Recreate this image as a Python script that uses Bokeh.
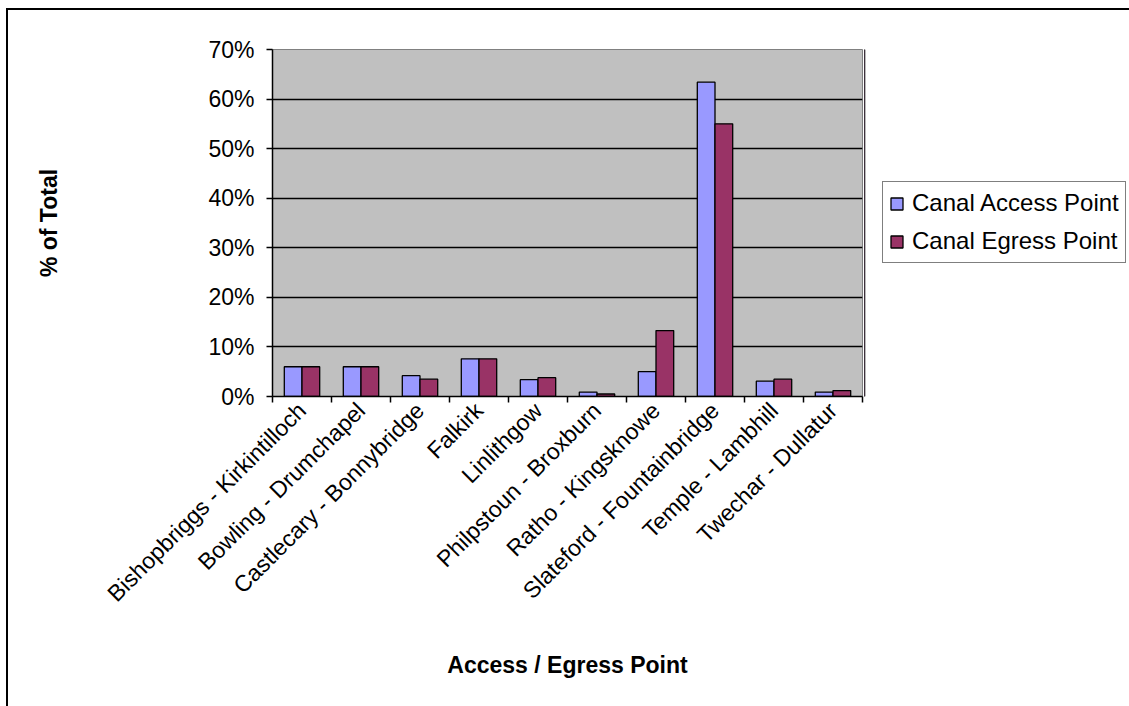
from math import pi

from bokeh.embed import file_html
from bokeh.layouts import row
from bokeh.models import (ColumnDataSource, FixedTicker, Legend, LegendItem,
                          NumeralTickFormatter, Range1d)
from bokeh.plotting import figure
from bokeh.resources import INLINE
from bokeh.transform import dodge

# Share of trips by canal access / egress point (%)
categories = [
    "Bishopbriggs - Kirkintilloch",
    "Bowling - Drumchapel",
    "Castlecary - Bonnybridge",
    "Falkirk",
    "Linlithgow",
    "Philpstoun - Broxburn",
    "Ratho - Kingsknowe",
    "Slateford - Fountainbridge",
    "Temple - Lambhill",
    "Twechar - Dullatur",
]
access_pct = [6.0, 6.0, 4.2, 7.6, 3.4, 0.9, 5.0, 63.4, 3.1, 0.9]
egress_pct = [6.0, 6.0, 3.5, 7.6, 3.8, 0.5, 13.3, 55.0, 3.5, 1.2]
series_names = ["Canal Access Point", "Canal Egress Point"]
series_colors = ["#9999FF", "#993366"]
y_ticks = [0.0, 0.1, 0.2, 0.3, 0.4, 0.5, 0.6, 0.7]

FONT = "Liberation Sans"
SIZE = "23px"
TOTAL_W, TOTAL_H = 1121, 696
MAIN_W = 856
BORDER_TOP, BORDER_BOTTOM = 39, 310

centers = [i + 0.5 for i in range(len(categories))]
bounds = [float(i) for i in range(len(categories) + 1)]

source = ColumnDataSource(data=dict(
    x=centers,
    access=[v / 100 for v in access_pct],
    egress=[v / 100 for v in egress_pct],
))

p = figure(
    width=MAIN_W, height=TOTAL_H,
    x_range=Range1d(0, len(categories)), y_range=Range1d(0, 0.7),
    output_backend="svg", toolbar_location=None,
    min_border_left=264, min_border_right=2,
    min_border_top=BORDER_TOP, min_border_bottom=BORDER_BOTTOM,
)
p.background_fill_color = "#C0C0C0"
p.border_fill_color = "white"
p.outline_line_color = "#808080"
p.outline_line_width = 1

bar_w = 0.3
p.vbar(x=dodge("x", -bar_w / 2, range=p.x_range), top="access", width=bar_w,
       source=source, fill_color=series_colors[0], line_color="black", line_width=1.3)
p.vbar(x=dodge("x", bar_w / 2, range=p.x_range), top="egress", width=bar_w,
       source=source, fill_color=series_colors[1], line_color="black", line_width=1.3)

# x axis: labels at the category centres, tick marks at the boundaries
xax = p.xaxis[0]
xax.ticker = FixedTicker(ticks=centers, minor_ticks=bounds)
xax.major_label_overrides = {c: name for c, name in zip(centers, categories)}
xax.major_label_orientation = pi / 4
xax.major_tick_out = 0
xax.major_tick_in = 0
xax.minor_tick_out = 6
xax.minor_tick_in = 0
xax.minor_tick_line_color = "black"
xax.minor_tick_line_width = 1.5
xax.major_label_standoff = 4
xax.axis_line_color = "black"
xax.axis_line_width = 1.5
xax.major_label_text_font = FONT
xax.major_label_text_font_size = SIZE
xax.major_label_text_color = "black"
xax.axis_label = "Access / Egress Point"
xax.axis_label_text_font = FONT
xax.axis_label_text_font_size = SIZE
xax.axis_label_text_font_style = "bold"
xax.axis_label_text_color = "black"
xax.axis_label_standoff = 33

yax = p.yaxis[0]
yax.ticker = FixedTicker(ticks=y_ticks)
yax.formatter = NumeralTickFormatter(format="0%")
yax.major_tick_out = 6
yax.major_tick_in = 0
yax.minor_tick_out = 0
yax.minor_tick_in = 0
yax.major_tick_line_color = "black"
yax.major_tick_line_width = 1.5
yax.axis_line_color = "black"
yax.axis_line_width = 1.5
yax.major_label_standoff = 12
yax.major_label_text_font = FONT
yax.major_label_text_font_size = SIZE
yax.major_label_text_color = "black"
yax.axis_label = "% of Total"
yax.axis_label_text_font = FONT
yax.axis_label_text_font_size = SIZE
yax.axis_label_text_font_style = "bold"
yax.axis_label_text_color = "black"
yax.axis_label_standoff = 143

p.xgrid.visible = False
p.ygrid.ticker = FixedTicker(ticks=y_ticks[1:-1])
p.ygrid.grid_line_color = "black"
p.ygrid.grid_line_width = 1.3

# legend panel to the right of the plot area (its frame lines up with the plot's)
q = figure(
    width=TOTAL_W - MAIN_W, height=TOTAL_H,
    x_range=Range1d(0, 1), y_range=Range1d(0, 1),
    output_backend="svg", toolbar_location=None,
    min_border_left=0, min_border_right=0,
    min_border_top=BORDER_TOP, min_border_bottom=BORDER_BOTTOM,
    outline_line_color=None,
)
q.axis.visible = False
q.grid.visible = False
# swatch renderers: one bar each, kept outside the visible range
keys = [q.vbar(x=[-5.0], top=[1.0], width=0.3, fill_color=c, line_color="black",
               line_width=1.3)
        for c in series_colors]
legend = Legend(
    items=[LegendItem(label=n, renderers=[r]) for n, r in zip(series_names, keys)],
    location=(18, 133),
    orientation="vertical",
    border_line_color="black", border_line_width=1.5,
    background_fill_color="white", background_fill_alpha=1.0,
    label_text_font=FONT, label_text_font_size="24px", label_text_color="black",
    glyph_width=15, glyph_height=15, label_height=30, label_standoff=8,
    spacing=8, padding=6, margin=0,
)
q.add_layout(legend)

# chart border
layout = row(p, q, styles={
    "margin-left": "6px",
    "margin-top": "8px",
    "border-left": "2px solid black",
    "border-top": "2px solid black",
})

open("out.html", "w").write(file_html(layout, INLINE))
